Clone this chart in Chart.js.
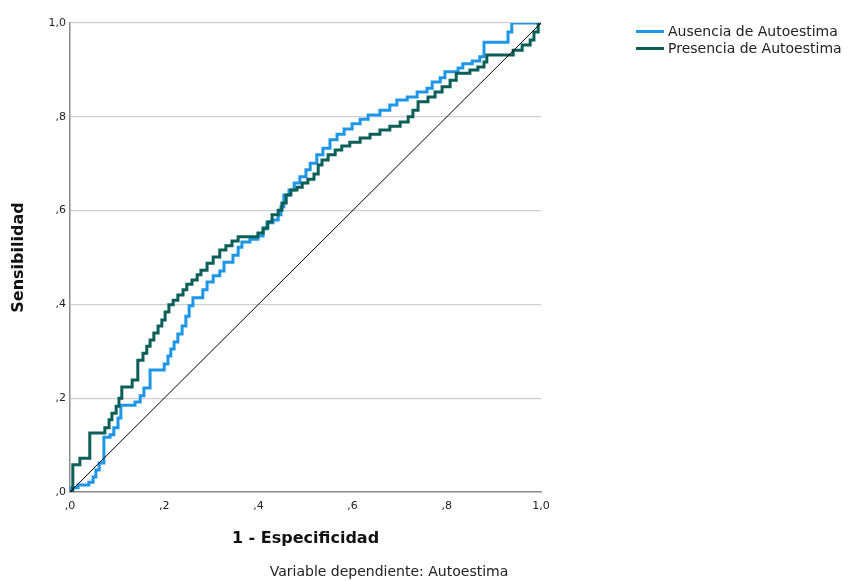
<!DOCTYPE html>
<html>
<head>
<meta charset="utf-8">
<script src="https://cdn.jsdelivr.net/npm/chart.js@4"></script>
<style>
    body { margin: 0; background: #fff; }
    #wrap { position: relative; width: 848px; height: 581px; font-family: "DejaVu Sans", sans-serif; color: #222; }
    .legend { position: absolute; left: 636px; font-size: 14px; line-height: 17px; }
    .legend span { display: inline-block; width: 28px; height: 3px; margin-right: 4px; vertical-align: middle; position: relative; top: -1px; }
    #subtitle { position: absolute; left: 0; width: 778px; top: 563px; text-align: center; font-size: 14px; }
</style>
</head>
<body>
<div id="wrap">
    <canvas id="rocChart" width="848" height="581"></canvas>
    <div class="legend" style="top:23px"><span style="background:#1e96e8"></span>Ausencia de Autoestima</div>
    <div class="legend" style="top:40px"><span style="background:#0b5f58"></span>Presencia de Autoestima</div>
    <div id="subtitle">Variable dependiente: Autoestima</div>
</div>
<script>
const seriesNames = ['Ausencia de Autoestima', 'Presencia de Autoestima']
const tickValues = [0, 0.2, 0.4, 0.6, 0.8, 1]
const tickLabels = [',0', ',2', ',4', ',6', ',8', '1,0']

// 1 - especificidad / sensibilidad
const ausenciaX = [0, 0.002, 0.017, 0.040, 0.049, 0.055, 0.062, 0.072, 0.085, 0.093, 0.102, 0.108, 0.138, 0.149, 0.157, 0.170,
    0.200, 0.208, 0.214, 0.221, 0.229, 0.238, 0.246, 0.253, 0.261, 0.282, 0.291, 0.304, 0.318, 0.327, 0.346, 0.357, 0.365,
    0.382, 0.399, 0.410, 0.418, 0.431, 0.442, 0.448, 0.454, 0.465, 0.476, 0.488, 0.501, 0.510, 0.524, 0.537, 0.552, 0.567,
    0.582, 0.599, 0.616, 0.633, 0.658, 0.679, 0.694, 0.716, 0.737, 0.758, 0.769, 0.786, 0.796, 0.824, 0.834, 0.854, 0.870,
    0.879, 0.930, 0.938, 1]
const ausenciaY = [0, 0.009, 0.015, 0.021, 0.032, 0.047, 0.062, 0.117, 0.122, 0.137, 0.158, 0.185, 0.192, 0.205, 0.222, 0.260,
    0.273, 0.290, 0.305, 0.320, 0.337, 0.354, 0.375, 0.397, 0.414, 0.431, 0.448, 0.461, 0.471, 0.490, 0.505, 0.522, 0.533,
    0.539, 0.546, 0.561, 0.574, 0.580, 0.591, 0.608, 0.633, 0.644, 0.659, 0.672, 0.687, 0.701, 0.719, 0.733, 0.751, 0.763,
    0.774, 0.785, 0.795, 0.804, 0.814, 0.825, 0.836, 0.842, 0.853, 0.861, 0.874, 0.883, 0.896, 0.904, 0.913, 0.919, 0.928,
    0.959, 0.981, 1, 1]

const presenciaX = [0, 0.006, 0.021, 0.042, 0.074, 0.083, 0.089, 0.098, 0.104, 0.110, 0.132, 0.144, 0.155, 0.163, 0.170, 0.178,
    0.187, 0.195, 0.202, 0.210, 0.219, 0.229, 0.240, 0.248, 0.259, 0.270, 0.278, 0.291, 0.304, 0.318, 0.331, 0.344, 0.357,
    0.399, 0.410, 0.420, 0.429, 0.442, 0.450, 0.459, 0.469, 0.482, 0.493, 0.505, 0.518, 0.527, 0.535, 0.548, 0.563, 0.577,
    0.594, 0.616, 0.637, 0.658, 0.679, 0.701, 0.718, 0.728, 0.739, 0.760, 0.775, 0.790, 0.807, 0.820, 0.849, 0.866, 0.879,
    0.885, 0.941, 0.960, 0.977, 0.985, 0.994, 1]
const presenciaY = [0, 0.058, 0.072, 0.126, 0.137, 0.154, 0.168, 0.183, 0.200, 0.224, 0.239, 0.281, 0.296, 0.311, 0.324, 0.339,
    0.354, 0.367, 0.384, 0.399, 0.409, 0.420, 0.431, 0.443, 0.452, 0.463, 0.473, 0.488, 0.501, 0.516, 0.525, 0.535, 0.544,
    0.552, 0.563, 0.576, 0.591, 0.601, 0.616, 0.633, 0.644, 0.650, 0.659, 0.667, 0.678, 0.697, 0.708, 0.719, 0.729, 0.738,
    0.746, 0.755, 0.763, 0.772, 0.780, 0.789, 0.800, 0.814, 0.832, 0.842, 0.853, 0.864, 0.878, 0.893, 0.900, 0.906, 0.917,
    0.932, 0.942, 0.953, 0.964, 0.981, 1, 1]

const referenceX = [0, 1]
const referenceY = [0, 1]

function toPoints(xs, ys) {
    return xs.map((x, i) => ({ x, y: ys[i] }))
}

const tickFont = { family: 'DejaVu Sans', size: 11 }
const titleFont = { family: 'DejaVu Sans', size: 16, weight: 'bold' }

function tickLabel(v) {
    const i = tickValues.findIndex(t => Math.abs(t - v) < 1e-6)
    return i >= 0 ? tickLabels[i] : ''
}

new Chart(document.getElementById('rocChart'), {
    type: 'line',
    data: {
        datasets: [
            {
                label: 'Referencia',
                data: toPoints(referenceX, referenceY),
                borderColor: '#000',
                borderWidth: 1,
                pointRadius: 0,
                order: 0
            },
            {
                label: seriesNames[1],
                data: toPoints(presenciaX, presenciaY),
                borderColor: '#0b5f58',
                borderWidth: 3,
                pointRadius: 0,
                stepped: 'before',
                order: 1
            },
            {
                label: seriesNames[0],
                data: toPoints(ausenciaX, ausenciaY),
                borderColor: '#1e96e8',
                borderWidth: 3,
                pointRadius: 0,
                stepped: 'before',
                order: 2
            }
        ]
    },
    options: {
        responsive: false,
        animation: false,
        devicePixelRatio: 1,
        layout: { padding: { left: 0, right: 307, top: 23, bottom: 0 } },
        plugins: { legend: { display: false }, tooltip: { enabled: false } },
        scales: {
            x: {
                type: 'linear',
                min: 0,
                max: 1,
                afterFit: scale => { scale.height = 89 },
                afterBuildTicks: scale => { scale.ticks = tickValues.map(value => ({ value })) },
                grid: { display: false },
                border: { color: '#8c8c8c', width: 1.5 },
                ticks: { font: tickFont, color: '#222', padding: 0, maxRotation: 0, callback: tickLabel },
                title: { display: true, text: '1 - Especificidad', font: titleFont, color: '#111', padding: { top: 0, bottom: 33 } }
            },
            y: {
                type: 'linear',
                min: 0,
                max: 1,
                afterFit: scale => { scale.width = 70 },
                afterBuildTicks: scale => { scale.ticks = tickValues.map(value => ({ value })) },
                grid: { color: '#cfcfcf', lineWidth: 1.2, drawTicks: false },
                border: { color: '#8c8c8c', width: 1.5 },
                ticks: { font: tickFont, color: '#222', padding: 4, callback: tickLabel },
                title: { display: true, text: 'Sensibilidad', font: titleFont, color: '#111', padding: { top: 9, bottom: 0 } }
            }
        }
    }
})
</script>
</body>
</html>
